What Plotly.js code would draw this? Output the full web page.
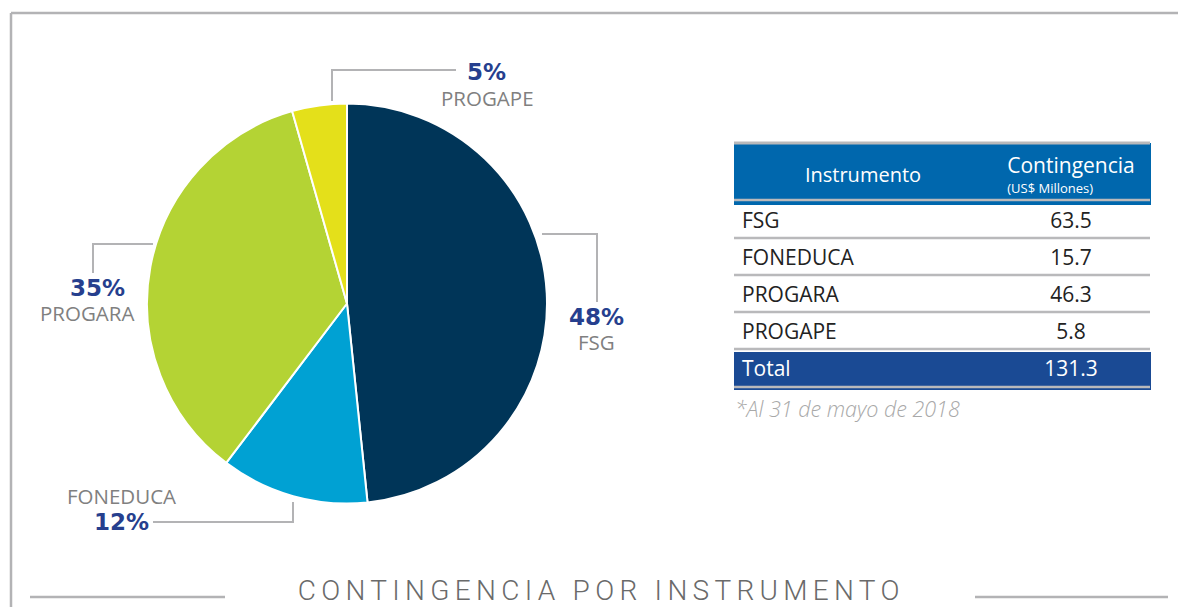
<!DOCTYPE html>
<html>
<head>
<meta charset="utf-8">
<script src="https://cdn.plot.ly/plotly-3.0.1.min.js"></script>
<style>html,body{margin:0;padding:0;background:#fff;}#chart{width:1178px;height:607px;}</style>
</head>
<body>
<div id="chart"></div>
<script>
// ---- data ----
const instruments = ['FSG', 'FONEDUCA', 'PROGARA', 'PROGAPE'];
const contingency = [63.5, 15.7, 46.3, 5.8];
const pctLabels = ['48%', '12%', '35%', '5%'];
const totalLabel = 'Total';
const totalValue = 131.3;
const headerLabels = ['Instrumento', 'Contingencia'];
const headerUnit = '(US$ Millones)';
const footnote = '*Al 31 de mayo de 2018';
const chartTitle = 'CONTINGENCIA POR INSTRUMENTO';

// ---- styles ----
const sliceColors = ['#003558', '#00a1d3', '#b4d334', '#e4e01a'];
const W = 1178, H = 607;
const px = x => x / W;
const py = y => 1 - y / H;
const gray = '#b3b3b5';
const pctColor = '#263f8e';
const nameColor = '#808080';
const headBlue = '#0067ad';
const totalBlue = '#1a4a94';
const FONT = '"Open Sans", "Noto Sans", sans-serif';
const BOLD = '"DejaVu Sans", sans-serif';

const pie = {
  type: 'pie',
  values: contingency,
  labels: instruments,
  sort: false,
  direction: 'clockwise',
  rotation: 0,
  textinfo: 'none',
  hoverinfo: 'label+value',
  marker: {colors: sliceColors, line: {color: '#ffffff', width: 2}},
  domain: {x: [px(147), px(547)], y: [py(504), py(103)]},
  showlegend: false
};

const col1 = instruments.concat([totalLabel]);
const col2 = contingency.map(v => v.toFixed(1)).concat([totalValue.toFixed(1)]);
const nRows = col1.length;
const fillCol = [];
const fontCol = [];
for (let i = 0; i < nRows; i++) {
  fillCol.push(i === nRows - 1 ? totalBlue : '#ffffff');
  fontCol.push(i === nRows - 1 ? '#ffffff' : '#222222');
}

const table = {
  type: 'table',
  domain: {x: [px(734), px(1150)], y: [py(420), py(143)]},
  columnwidth: [258, 158],
  header: {
    values: [
      ['<span style="font-size:10px">\u00a0</span><br><span style="font-size:20px">' + headerLabels[0] + '</span>'],
      ['<span style="font-size:21px">' + headerLabels[1] + '</span><br><span style="font-size:13px">' + headerUnit + '</span>']
    ],
    align: ['center', 'center'],
    height: 57,
    fill: {color: headBlue},
    line: {color: headBlue, width: 1},
    font: {family: FONT, size: [15, 15], color: '#ffffff'}
  },
  cells: {
    values: [col1, col2],
    align: ['left', 'center'],
    height: 37,
    fill: {color: [fillCol, fillCol]},
    line: {color: [fillCol, fillCol], width: 1},
    font: {family: FONT, size: 21, color: [fontCol, fontCol]}
  }
};

const shapes = [];
const lineStyle = {color: gray, width: 2.5};
// frame
shapes.push({type: 'line', xref: 'paper', yref: 'paper', x0: px(11), x1: px(1178), y0: py(13), y1: py(13), line: lineStyle});
shapes.push({type: 'line', xref: 'paper', yref: 'paper', x0: px(11), x1: px(11), y0: py(13), y1: py(607), line: lineStyle});
// title side lines
shapes.push({type: 'line', xref: 'paper', yref: 'paper', x0: px(30), x1: px(225), y0: py(597), y1: py(597), line: lineStyle});
shapes.push({type: 'line', xref: 'paper', yref: 'paper', x0: px(975), x1: px(1168), y0: py(597), y1: py(597), line: lineStyle});
// leader lines
const lead = {color: gray, width: 2};
function path(pts) {
  return pts.map((p, i) => (i ? 'L' : 'M') + px(p[0]) + ',' + py(p[1])).join(' ');
}
[
  [[332, 101], [332, 70], [456, 70]],
  [[542, 234], [597, 234], [597, 302]],
  [[93, 273], [93, 244], [153, 244]],
  [[153, 522], [293, 522], [293, 502]]
].forEach(p => shapes.push({type: 'path', xref: 'paper', yref: 'paper', path: path(p), line: lead}));
// table row rules
[143, 200, 238, 275, 312, 349, 387].forEach((y, i) => shapes.push({
  type: 'line', xref: 'paper', yref: 'paper', x0: px(734), x1: px(1150), y0: py(y), y1: py(y),
  line: {color: '#b9b9bb', width: i === 0 ? 3 : 2.5}
}));

const annotations = [];
function ann(text, x, y, font, extra) {
  annotations.push(Object.assign({xref: 'paper', yref: 'paper', x: px(x), y: py(y), text: text,
    showarrow: false, xanchor: 'center', yanchor: 'middle', font: font}, extra || {}));
}
const pctFont = {family: BOLD, size: 23, color: pctColor, weight: 'bold'};
const nameFont = {family: FONT, size: 20.5, color: nameColor};
// PROGAPE
ann(pctLabels[3], 486, 72, pctFont);
ann(instruments[3], 487, 98, nameFont);
// FSG
ann(pctLabels[0], 596, 317, pctFont);
ann(instruments[0], 596, 342, nameFont);
// PROGARA
ann(pctLabels[2], 97, 288, pctFont);
ann(instruments[2], 87, 313, nameFont);
// FONEDUCA
ann(instruments[1], 121, 496, nameFont);
ann(pctLabels[1], 121, 522, pctFont);
// footnote
ann(footnote, 733, 408, {family: FONT, size: 21.5, color: '#a8a8a8', style: 'italic', weight: 300}, {xanchor: 'left'});
// title
ann(chartTitle, 601, 590, {family: 'Roboto, "DejaVu Sans", sans-serif', size: 28, color: '#6a6a6a', weight: 300});

const layout = {
  width: W, height: H,
  margin: {l: 0, r: 0, t: 0, b: 0},
  paper_bgcolor: '#ffffff',
  showlegend: false,
  shapes: shapes,
  annotations: annotations
};

Plotly.newPlot('chart', [pie, table], layout, {displayModeBar: false, staticPlot: true}).then(gd => {
  gd.querySelectorAll('.annotation-text').forEach(t => {
    if (t.textContent === chartTitle) t.style.letterSpacing = '5.3px';
  });
});
</script>
</body>
</html>
